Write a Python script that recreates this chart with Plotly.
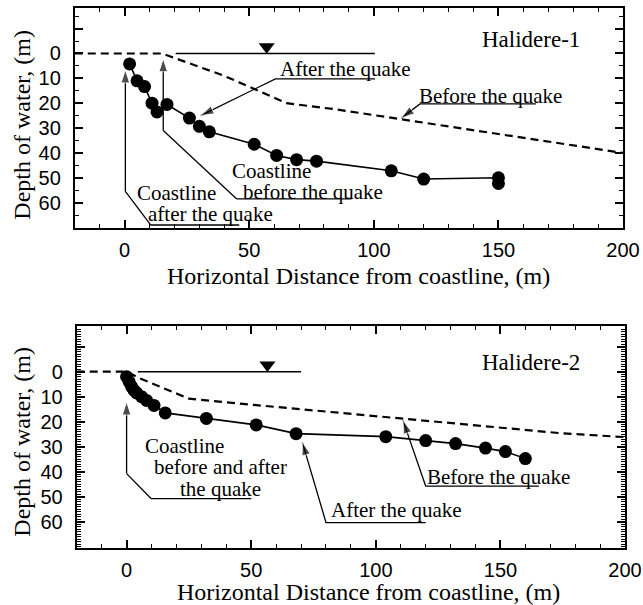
import plotly.graph_objects as go

# ---------------- data ----------------
# Halidere-1
h1_after_x = [2, 5, 8, 11, 13, 17, 26, 30, 34, 52, 61, 69, 77, 107, 120, 150, 150]
h1_after_y = [4.2, 11, 13.3, 20, 23.5, 20.5, 26, 29.3, 31.5, 36.5, 41, 42.7, 43.3, 47.2, 50.5, 50, 52.3]
h1_before_x = [-20, 15, 40, 65, 85, 200]
h1_before_y = [0, 0, 9, 20, 22.5, 40]
h1_water_x = [20.5, 100.4]
h1_water_y = [0, 0]

# Halidere-2
h2_after_x = [0, 1, 2, 3, 4, 6, 8, 11, 15.5, 32, 52, 68, 104, 120, 132, 144, 152, 160]
h2_after_y = [2, 4, 6, 7.5, 8.5, 10, 11.5, 13.5, 16.5, 18.7, 21.3, 24.8, 26, 27.6, 28.8, 30.6, 32, 34.8]
h2_before_x = [-20, 0, 5, 25, 50, 110, 175, 200]
h2_before_y = [0, 0, 2.5, 10.8, 13.2, 18.7, 24.7, 26.2]
h2_water_x = [4.5, 70]
h2_water_y = [0, 0]

x_ticks = [0, 50, 100, 150, 200]
y_ticks = [-10, 0, 10, 20, 30, 40, 50, 60]
y_ticktext = ["", "0", "10", "20", "30", "40", "50", "60"]

# annotation leaders (polyline ending at arrow tip) and labels
top_leaders = [
    ([100.5, 60.5, 30.5], [10.2, 10.2, 25]),
    ([165, 118.5, 111], [20.3, 20.3, 26]),
    ([91, 45, 15.5, 15.5], [58.5, 58.5, 31, 2]),
    ([46, 10.5, 0.3, 0.3], [69, 69, 55.5, 6.5]),
]
top_labels = [
    ("Halidere-1", 163, -5.5, 23),
    ("After the quake", 88.8, 6.3, 21),
    ("Before the quake", 147, 16.9, 21),
    ("Coastline", 59, 47.4, 21),
    ("before the quake", 75.5, 55.8, 21),
    ("Coastline", 20.8, 56, 21),
    ("after the quake", 34.3, 64.5, 21),
]
bot_leaders = [
    ([50, 9.8, 0, 0], [50.8, 50.8, 40.8, 12]),
    ([120, 80, 70.5], [60.4, 60.4, 28.2]),
    ([165.4, 120, 110.9], [45.8, 45.8, 19.5]),
]
bot_labels = [
    ("Halidere-2", 162.4, -3.5, 23),
    ("Coastline", 23.1, 29.9, 21),
    ("before and after", 37.8, 38.2, 21),
    ("the quake", 37.8, 46.8, 21),
    ("After the quake", 108.4, 55.4, 21),
    ("Before the quake", 149.2, 42.1, 21),
]

SERIF = "Liberation Serif"
SANS = "Liberation Sans"

fig = go.Figure()


def add_panel(xa, ya, after_x, after_y, before_x, before_y, water_x, water_y, tri_x, leaders, labels):
    fig.add_trace(go.Scatter(x=before_x, y=before_y, mode="lines", xaxis=xa, yaxis=ya,
                             line=dict(color="black", width=2.2, dash="8px,5px"), showlegend=False))
    fig.add_trace(go.Scatter(x=water_x, y=water_y, mode="lines", xaxis=xa, yaxis=ya,
                             line=dict(color="black", width=1.5), showlegend=False))
    fig.add_trace(go.Scatter(x=[tri_x], y=[-2.7], mode="markers", xaxis=xa, yaxis=ya,
                             marker=dict(symbol="triangle-down", size=14, color="black"),
                             showlegend=False))
    fig.add_trace(go.Scatter(x=after_x, y=after_y, mode="lines+markers", xaxis=xa, yaxis=ya,
                             line=dict(color="black", width=1.6),
                             marker=dict(symbol="circle", size=13, color="black"),
                             showlegend=False))
    for lx, ly in leaders:
        n = len(lx)
        fig.add_trace(go.Scatter(
            x=lx, y=ly, mode="lines+markers", xaxis=xa, yaxis=ya,
            line=dict(color="black", width=1.3),
            marker=dict(symbol="arrow", angleref="previous",
                        size=[0] * (n - 1) + [14], color="black"),
            showlegend=False))
    xref = "x" if xa == "x" else "x2"
    yref = "y" if ya == "y" else "y2"
    for txt, tx, ty, fs in labels:
        fig.add_annotation(x=tx, y=ty, xref=xref, yref=yref, text=txt, showarrow=False,
                           font=dict(family=SERIF, size=fs, color="black"),
                           xanchor="center", yanchor="middle")


add_panel("x", "y", h1_after_x, h1_after_y, h1_before_x, h1_before_y,
          h1_water_x, h1_water_y, 57, top_leaders, top_labels)
add_panel("x2", "y2", h2_after_x, h2_after_y, h2_before_x, h2_before_y,
          h2_water_x, h2_water_y, 56.5, bot_leaders, bot_labels)

# target picture size; the capture squeezes the page horizontally (~643/658),
# so the figure is made a little wider and positions are given as fractions
TW, TH = 643, 605
W, H = 658, 605


def px(v):
    return v / TW


def py(v):
    return 1 - v / TH


axis_common = dict(showline=True, linecolor="black", linewidth=2, mirror="allticks",
                   ticks="inside", ticklen=8, tickwidth=1.5, tickcolor="black",
                   showgrid=False, zeroline=False,
                   tickfont=dict(family=SANS, size=20, color="black"))

fig.update_layout(
    width=W, height=H, margin=dict(l=0, r=0, t=0, b=0),
    paper_bgcolor="white", plot_bgcolor="white", showlegend=False,
    xaxis=dict(domain=[px(75), px(625)], anchor="y", range=[-20, 200],
               tickvals=x_ticks, ticklabelstandoff=3,
               minor=dict(dtick=10, tick0=0, ticklen=4, tickwidth=1.2, ticks="inside",
                          tickcolor="black"), **axis_common),
    yaxis=dict(domain=[py(228), py(8)], anchor="x", range=[70.2, -18.3],
               tickvals=y_ticks, ticktext=y_ticktext, ticklabelstandoff=8,
               minor=dict(dtick=5, tick0=0, ticklen=4, tickwidth=1.2, ticks="inside",
                          tickcolor="black"), **axis_common),
    xaxis2=dict(domain=[px(77), px(627)], anchor="y2", range=[-20, 200],
                tickvals=x_ticks, ticklabelstandoff=3,
                minor=dict(dtick=10, tick0=0, ticklen=4, tickwidth=1.2, ticks="inside",
                           tickcolor="black"), **axis_common),
    yaxis2=dict(domain=[py(548), py(326)], anchor="x2", range=[70.6, -18.3],
                tickvals=y_ticks, ticktext=y_ticktext, ticklabelstandoff=8,
                minor=dict(dtick=1, tick0=0, ticklen=4, tickwidth=1, ticks="inside",
                           tickcolor="black"), **axis_common),
)

title_font = dict(family=SERIF, size=24, color="black")
ytitle = "Depth of water, (m)"
xtitle = "Horizontal Distance from coastline, (m)"
fig.add_annotation(x=px(21.7), y=py(125), xref="paper", yref="paper", text=ytitle,
                   textangle=-90, showarrow=False, font=title_font,
                   xanchor="center", yanchor="middle")
fig.add_annotation(x=px(21.7), y=py(442), xref="paper", yref="paper", text=ytitle,
                   textangle=-90, showarrow=False, font=title_font,
                   xanchor="center", yanchor="middle")
fig.add_annotation(x=px(360), y=py(276), xref="paper", yref="paper", text=xtitle,
                   showarrow=False, font=title_font, xanchor="center", yanchor="middle")
fig.add_annotation(x=px(370), y=py(592), xref="paper", yref="paper", text=xtitle,
                   showarrow=False, font=title_font, xanchor="center", yanchor="middle")

# remove the browser's default 8px body margin
fig.write_html("out.html", config={"displayModeBar": False},
               post_script="document.body.style.margin='0';"
                           "document.documentElement.style.overflow='hidden';")
